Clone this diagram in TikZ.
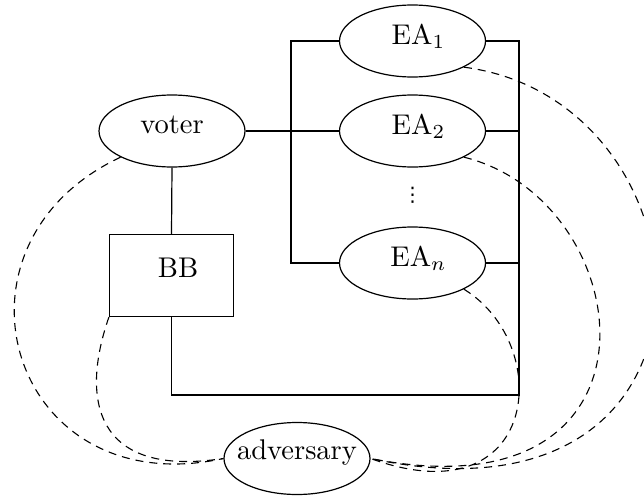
\documentclass[tikz,border=0pt]{standalone}
\usepackage{graphicx}
\usepackage{fontspec}
\usetikzlibrary{shapes.geometric}
\newfontfamily\symbolfont{DejaVu Sans}
% labels are set in 10pt type and enlarged as a whole
\newcommand{\lbl}[1]{\scalebox{2.85}{#1}}
\begin{document}
\begin{tikzpicture}[x=1pt,y=-1pt,
  party/.style={draw, ellipse, line width=1.2pt, minimum width=146pt, minimum height=72pt, inner sep=0pt},
  board/.style={draw, rectangle, line width=1.2pt, minimum width=124pt, minimum height=82pt, inner sep=0pt},
  caption/.style={inner sep=0pt},
  wire/.style={line width=1.2pt},
  leak/.style={line width=1.1pt, dash pattern=on 8pt off 6pt}]
\useasboundingbox (0,0) rectangle (644,495);

% participants
\node[party] (voter) at (172,131) {};
\node[party] (ea1) at (412.5,41) {};
\node[party] (ea2) at (412.5,131) {};
\node[party] (ean) at (412.5,263) {};
\node[party] (adv) at (297,458.5) {};
\node[board] (bb) at (171.5,275.5) {};

% their names
\node[caption] (voterlbl) at ([yshift=6pt]voter.center) {\lbl{voter}};
\node[caption] (ea1lbl) at ([xshift=6pt,yshift=5pt]ea1.center) {\lbl{EA$_1$}};
\node[caption] (ea2lbl) at ([xshift=6pt,yshift=5pt]ea2.center) {\lbl{EA$_2$}};
\node[caption] (eanlbl) at ([xshift=6pt,yshift=5pt]ean.center) {\lbl{EA$_n$}};
\node[caption] (advlbl) at ([yshift=6pt]adv.center) {\lbl{adversary}};
\node[caption] (bblbl) at ([xshift=6.5pt,yshift=8pt]bb.center) {\lbl{BB}};
\node[caption] (dots) at (412.5,195.5) {\scalebox{2}{\symbolfont ⋮}};

% channels
\coordinate (lbus) at (291,0);
\coordinate (rbus) at (519,395);
\draw[wire] (voter.south) -- (bb.north);
\draw[wire] (voter.east) -- (ea2.west);
\draw[wire, line width=1.8pt] (voter.east) -- (voter.east -| lbus);
\draw[wire] (ea1.west) -- (ea1.west -| lbus) -- (ean.west -| lbus) -- (ean.west);
\draw[wire] (ea1.east) -- (ea1.east -| rbus) -- (rbus) -- (bb.south |- rbus) -- (bb.south);
\draw[wire] (ea2.east) -- (ea2.east -| rbus);
\draw[wire] (ean.east) -- (ean.east -| rbus);

% what the adversary can see
\draw[leak] (voter.207) .. controls (-67,245) and (10,505) .. (adv.west);
\draw[leak] (bb.south west) .. controls (80,400) and (95,478) .. (adv.west);
\draw[leak] (ea1.333) .. controls (720,100) and (750,540) .. (adv.east);
\draw[leak] (ea2.333) .. controls (640,200) and (680,520) .. (adv.east);
\draw[leak] (ean.333) .. controls (555,345) and (540,520) .. (adv.east);
\end{tikzpicture}
\end{document}
